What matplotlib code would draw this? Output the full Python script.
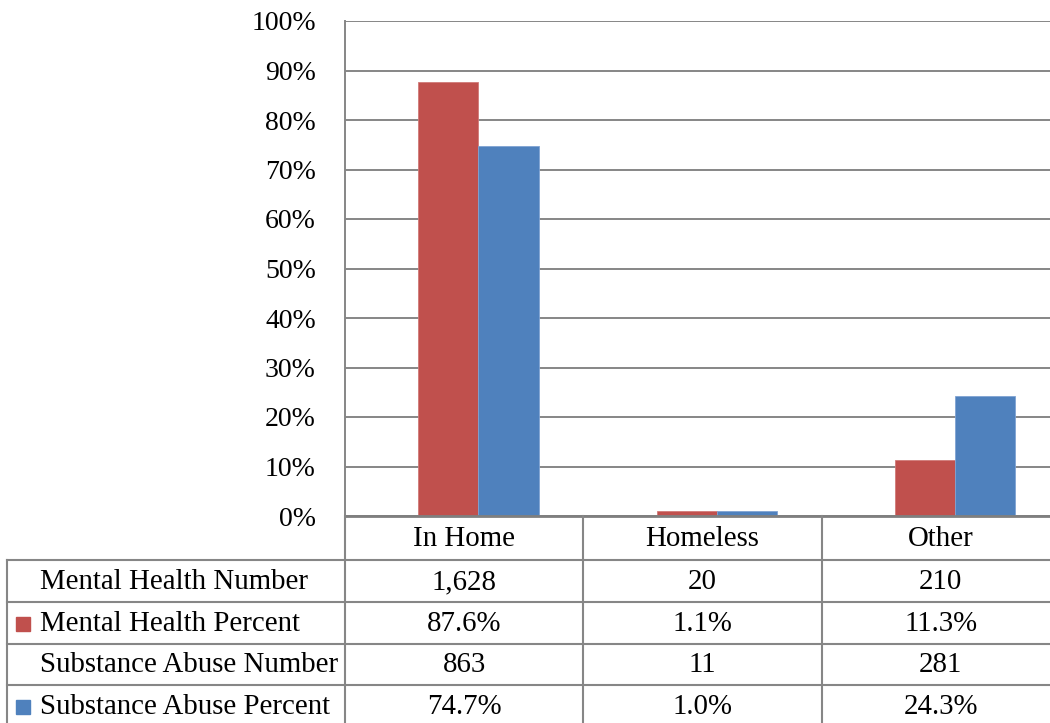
import matplotlib
matplotlib.use("Agg")
import matplotlib.pyplot as plt
import numpy as np

categories = ["In Home", "Homeless", "Other"]
mh_number = ["1,628", "20", "210"]
mh_percent = [87.6, 1.1, 11.3]
sa_number = ["863", "11", "281"]
sa_percent = [74.7, 1.0, 24.3]
row_labels = ["Mental Health Number", "Mental Health Percent",
              "Substance Abuse Number", "Substance Abuse Percent"]
yticks = np.arange(0, 101, 10)

RED = "#C0504D"
BLUE = "#4F81BD"
GRID = "#868686"
FONT = "Liberation Serif"
FS = 20.8
FS_TICK = 20

W, H = 1050, 723
fig = plt.figure(figsize=(W / 100, H / 100), dpi=100)
plt.rcParams['font.family'] = [FONT, 'DejaVu Serif']

ax_left, ax_right, ax_top, ax_bottom = 345, 1060, 21, 516
ax = fig.add_axes([ax_left / W, 1 - ax_bottom / H, (ax_right - ax_left) / W, (ax_bottom - ax_top) / H])
x = np.arange(len(categories))
off = 0.06
bw = 0.252
ax.bar(x + off - bw / 2, mh_percent, bw, color=RED, edgecolor="#D07A78", linewidth=0.6, zorder=3)
ax.bar(x + off + bw / 2, sa_percent, bw, color=BLUE, edgecolor="#7FA3D3", linewidth=0.6, zorder=3)
ax.set_xlim(-0.5, 2.5)
ax.set_ylim(0, 100)
ax.set_yticks(yticks)
ax.set_yticklabels([f"{v}%" for v in yticks], fontsize=FS_TICK, family=FONT)
ax.tick_params(axis="y", length=0, pad=21)
ax.set_xticks([])
ax.grid(axis="y", color=GRID, linewidth=1.4, zorder=0)
for s in ["top", "right"]:
    ax.spines[s].set_visible(False)
ax.spines["left"].set_color(GRID)
ax.spines["left"].set_linewidth(1.4)
ax.spines["bottom"].set_color("#7F7F7F")
ax.spines["bottom"].set_linewidth(2.0)
ax.spines["bottom"].set_zorder(4)

# table area below the plot
tb_top, tb_bot = 516, 727
tax = fig.add_axes([ax_left / W, 1 - tb_bot / H, (ax_right - ax_left) / W, (tb_bot - tb_top) / H])
tax.set_xlim(-0.5, 2.5)
tax.set_ylim(tb_bot - tb_top, 0)
tax.axis("off")
rows_y = [0, 44, 86, 128, 169, 211]
left_px = 7
xl = -0.5 - (ax_left - left_px) / (ax_right - ax_left) * 3.0
lc = GRID
lw = 1.5
for yy in rows_y[1:]:
    tax.plot([xl, 2.5], [yy, yy], color=lc, lw=lw, clip_on=False)
for xv in [-0.5, 0.5, 1.5]:
    tax.plot([xv, xv], [0, 211], color=lc, lw=lw, clip_on=False)
tax.plot([xl, xl], [rows_y[1], 211], color=lc, lw=lw, clip_on=False)

for i, c in enumerate(categories):
    tax.text(i, (rows_y[0] + rows_y[1]) / 2 + 1, c, ha="center", va="center", fontsize=FS, family=FONT)

table_rows = [mh_number, [f"{v:.1f}%" for v in mh_percent], sa_number, [f"{v:.1f}%" for v in sa_percent]]
markers = [None, RED, None, BLUE]
lab_x = xl + (40 - left_px) / (ax_right - ax_left) * 3.0
for r, (lab, vals, mk) in enumerate(zip(row_labels, table_rows, markers)):
    yc = (rows_y[r + 1] + rows_y[r + 2]) / 2 + 1
    tax.text(lab_x, yc, lab, ha="left", va="center", fontsize=FS, family=FONT, clip_on=False)
    for i, v in enumerate(vals):
        tax.text(i, yc, v, ha="center", va="center", fontsize=FS, family=FONT)
    if mk:
        sq_x = xl + (9 / (ax_right - ax_left)) * 3.0
        sq_w = 14 / (ax_right - ax_left) * 3.0
        tax.add_patch(plt.Rectangle((sq_x, yc - 7), sq_w, 14, color=mk, clip_on=False))

fig.savefig("out.png", dpi=100)
